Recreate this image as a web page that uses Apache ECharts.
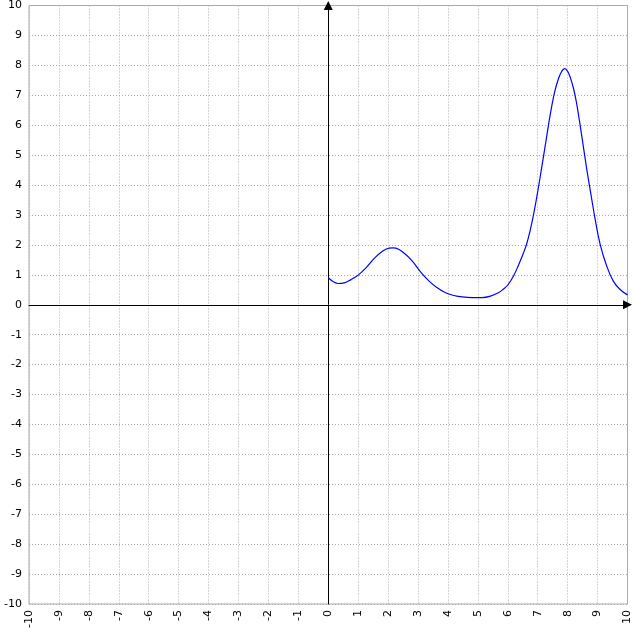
<!DOCTYPE html>
<html>
<head>
<meta charset="utf-8">
<title>Function plot</title>
<script src="https://cdn.jsdelivr.net/npm/echarts@6/dist/echarts.min.js"></script>
<style>
  html, body { margin: 0; padding: 0; background: #fff; }
  #chart { width: 633px; height: 633px; }
</style>
</head>
<body>
<div id="chart"></div>
<script>
// axis ranges / ticks
var axisMin = -10;
var axisMax = 10;
var tickStep = 1;

// curve samples
var xs = [0, 0.17, 0.33, 0.53, 0.76, 1.0, 1.26, 1.53, 1.81, 2.03, 2.15, 2.26, 2.53, 2.81,
          3.09, 3.37, 3.64, 3.92, 4.2, 4.48, 4.81, 5.14, 5.42, 5.7, 5.85, 6.0, 6.2, 6.36,
          6.52, 6.63, 6.74, 6.86, 6.97, 7.08, 7.2, 7.28, 7.37, 7.46, 7.57, 7.68, 7.79, 7.9,
          8.0, 8.09, 8.2, 8.29, 8.37, 8.44, 8.53, 8.59, 8.67, 8.76, 8.92, 9.09, 9.31, 9.53,
          9.76, 10.0];
var ys = [0.9, 0.77, 0.71, 0.73, 0.84, 0.99, 1.23, 1.54, 1.79, 1.89, 1.9, 1.89, 1.73, 1.46,
          1.09, 0.79, 0.57, 0.4, 0.31, 0.26, 0.24, 0.24, 0.29, 0.41, 0.52, 0.66, 0.98, 1.33,
          1.72, 2.03, 2.45, 3.01, 3.61, 4.26, 5.0, 5.5, 6.07, 6.59, 7.13, 7.51, 7.78, 7.89,
          7.8, 7.59, 7.21, 6.78, 6.3, 5.85, 5.25, 4.85, 4.33, 3.8, 2.85, 2.0, 1.28, 0.78,
          0.5, 0.33];

var points = xs.map(function (x, i) { return [x, ys[i]]; });

var chart = echarts.init(document.getElementById('chart'));

var labelFont = { color: '#000', fontFamily: 'DejaVu Sans', fontSize: 11 };
var grid = { type: [1, 2], color: '#aaa', width: 1 };

var option = {
    animation: false,
    grid: {
        left: 29, right: 5, top: 5, bottom: 29,
        show: true, borderColor: '#aaa', borderWidth: 1, backgroundColor: '#fff'
    },
    xAxis: [
        {
            type: 'value', min: axisMin, max: axisMax, interval: tickStep,
            position: 'bottom',
            axisLine: { show: false, onZero: false },
            axisTick: { show: false },
            splitLine: { show: true, lineStyle: grid },
            axisLabel: Object.assign({ rotate: 90, margin: 6, showMinLabel: true, showMaxLabel: true }, labelFont)
        },
        {
            type: 'value', min: axisMin, max: axisMax, interval: tickStep,
            axisLine: {
                show: true, onZero: true, onZeroAxisIndex: 0,
                symbol: ['none', 'triangle'], symbolSize: [9, 9],
                lineStyle: { color: '#000', width: 1 }
            },
            axisTick: { show: false },
            axisLabel: { show: false },
            splitLine: { show: false }
        }
    ],
    yAxis: [
        {
            type: 'value', min: axisMin, max: axisMax, interval: tickStep,
            position: 'left',
            axisLine: { show: false, onZero: false },
            axisTick: { show: false },
            splitLine: { show: true, lineStyle: grid },
            axisLabel: Object.assign({ margin: 7, showMinLabel: true, showMaxLabel: true }, labelFont)
        },
        {
            type: 'value', min: axisMin, max: axisMax, interval: tickStep,
            axisLine: {
                show: true, onZero: true, onZeroAxisIndex: 0,
                symbol: ['none', 'triangle'], symbolSize: [9, 9],
                lineStyle: { color: '#000', width: 1 }
            },
            axisTick: { show: false },
            axisLabel: { show: false },
            splitLine: { show: false }
        }
    ],
    series: [
        {
            type: 'line',
            xAxisIndex: 0,
            yAxisIndex: 0,
            data: points,
            smooth: 0.4,
            showSymbol: false,
            lineStyle: { color: '#0000ff', width: 1.2 },
            z: 1
        }
    ]
};

chart.setOption(option);
</script>
</body>
</html>
